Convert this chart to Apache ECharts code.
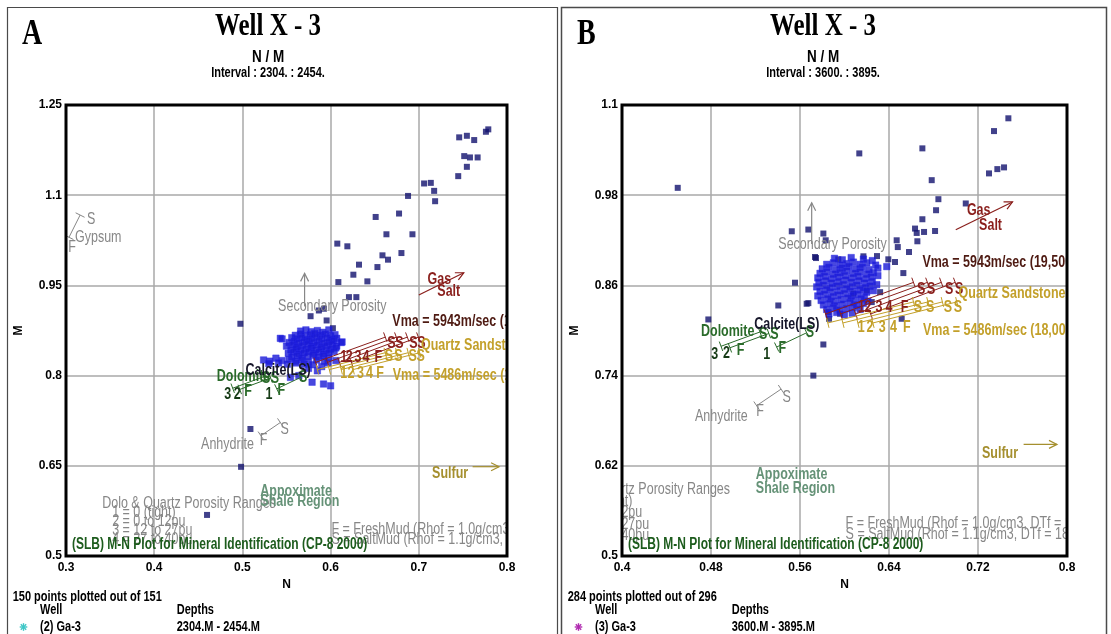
<!DOCTYPE html>
<html>
<head>
<meta charset="utf-8">
<script src="https://cdn.jsdelivr.net/npm/echarts@6/dist/echarts.min.js"></script>
<style>
  html, body { margin: 0; padding: 0; background: #fff; }
  #chart { width: 1111px; height: 634px; }
</style>
</head>
<body>
<div id="chart"></div>
<script>
// axis ranges [min, max, step]
const xRangeA = [0.3, 0.8, 0.1];
const yRangeA = [0.5, 1.25, 0.15];
const xRangeB = [0.4, 0.8, 0.08];
const yRangeB = [0.5, 1.1, 0.12];

const panelLetters = ['A', 'B'];
const wellTitle = 'Well X - 3';
const crossPlot = 'N / M';
const intervals = ['Interval : 2304. : 2454.', 'Interval : 3600. : 3895.'];
const plottedCounts = ['150 points plotted out of 151', '284 points plotted out of 296'];
const wells = ['(2) Ga-3', '(3) Ga-3'];
const depths = ['2304.M - 2454.M', '3600.M - 3895.M'];

// [N, M] points, panel A (interval 2304-2454)
const pointsA = [
  [0.7458,1.1962],[0.7545,1.1988],[0.7628,1.1917],[0.7761,1.2055],[0.7788,1.2095],
  [0.7515,1.165],[0.758,1.1628],[0.7667,1.1628],[0.7545,1.1472],[0.7447,1.1317],
  [0.706,1.1195],[0.7136,1.1205],[0.7174,1.1072],[0.7185,1.09],[0.6878,1.0988],
  [0.6776,1.0695],[0.6511,1.0638],[0.6633,1.035],[0.6928,1.035],[0.6076,1.0195],
  [0.619,1.015],[0.6588,1.0],[0.6651,0.9928],[0.6803,1.0038],[0.6322,0.9845],
  [0.6531,0.9805],[0.6258,0.9678],[0.6088,0.9555],[0.6417,0.9567],[0.6208,0.9305],
  [0.6292,0.9305],[0.5773,0.8988],[0.5867,0.9083],[0.5924,0.9112],[0.5955,0.8917],
  [0.6026,0.8788],[0.4977,0.8862],[0.5091,0.7112],[0.4985,0.6483],[0.4599,0.5683]
];
const clusterA = [
  [0.566,0.874],[0.572,0.876],[0.578,0.873],[0.585,0.875],[0.591,0.872],[0.598,0.876],
  [0.560,0.867],[0.566,0.869],[0.571,0.866],[0.577,0.868],[0.582,0.870],[0.588,0.867],[0.594,0.869],[0.600,0.866],[0.605,0.868],
  [0.545,0.861],[0.556,0.863],[0.562,0.861],[0.567,0.863],[0.573,0.860],[0.579,0.862],[0.584,0.864],[0.590,0.861],[0.596,0.863],[0.601,0.860],[0.607,0.862],
  [0.553,0.855],[0.559,0.857],[0.564,0.854],[0.570,0.856],[0.576,0.858],[0.581,0.855],[0.587,0.857],[0.593,0.854],[0.598,0.856],[0.604,0.858],[0.612,0.855],
  [0.550,0.849],[0.557,0.851],[0.562,0.848],[0.568,0.850],[0.574,0.852],[0.579,0.849],[0.585,0.851],[0.590,0.848],[0.596,0.850],[0.602,0.852],[0.607,0.849],
  [0.555,0.843],[0.561,0.845],[0.566,0.842],[0.572,0.844],[0.578,0.846],[0.583,0.843],[0.589,0.845],[0.595,0.842],[0.600,0.844],[0.606,0.846],
  [0.552,0.837],[0.558,0.839],[0.564,0.836],[0.570,0.838],[0.575,0.840],[0.581,0.837],[0.587,0.839],[0.592,0.836],[0.598,0.838],[0.604,0.840],
  [0.556,0.831],[0.562,0.833],[0.568,0.830],[0.574,0.832],[0.580,0.834],[0.586,0.831],[0.592,0.833],[0.598,0.830],
  [0.524,0.826],[0.531,0.824],[0.538,0.829],[0.545,0.825],[0.553,0.827],[0.560,0.824],[0.567,0.826],[0.575,0.823],[0.584,0.826],[0.593,0.824],[0.606,0.825],
  [0.530,0.820],[0.541,0.821],[0.551,0.819],[0.561,0.821],[0.570,0.819],[0.580,0.818],[0.597,0.821],
  [0.5545,0.797],[0.564,0.800],[0.585,0.808],[0.579,0.789],[0.592,0.786],[0.600,0.783],[0.575,0.812],[0.590,0.815],[0.543,0.862],[0.613,0.856]
];

// [N, M] points, panel B (interval 3600-3895)
const pointsB = [
  [0.4501,0.9898],[0.5526,0.932],[0.5675,0.9343],[0.581,0.929],[0.5831,0.92],[0.5744,0.8964],
  [0.5555,0.8636],[0.5405,0.8333],[0.5675,0.8364],[0.4776,0.8147],[0.581,0.7814],[0.572,0.74],[0.5861,0.8156],
  [0.7473,1.0823],[0.7344,1.0653],[0.7434,1.017],[0.7374,1.0147],[0.7299,1.009],[0.67,1.0423],[0.6133,1.0356],
  [0.6784,1.0],[0.6844,0.9747],[0.6823,0.96],[0.709,0.969],[0.67,0.948],[0.6634,0.9356],[0.6649,0.9298],
  [0.6715,0.9311],[0.6814,0.9324],[0.6655,0.9187],[0.658,0.9044],[0.6469,0.92],[0.6479,0.911],[0.6529,0.8764],
  [0.6292,0.899],[0.6394,0.8947],[0.6454,0.8911],[0.617,0.8987],[0.5944,0.8947],[0.6514,0.8156],[0.632,0.851],
  [0.6245,0.8378],[0.6079,0.849],[0.62,0.8533],[0.596,0.8223],[0.5855,0.8244],[0.566,0.8356],[0.5735,0.8978]
];
const clusterB = [
  [0.591,0.896],[0.598,0.894],[0.606,0.897],[0.617,0.895],[0.625,0.893],
  [0.584,0.888],[0.590,0.890],[0.596,0.887],[0.602,0.889],[0.608,0.891],[0.614,0.888],[0.620,0.890],[0.628,0.887],
  [0.580,0.882],[0.586,0.884],[0.592,0.881],[0.598,0.883],[0.604,0.885],[0.610,0.882],[0.616,0.884],[0.622,0.881],[0.630,0.883],[0.638,0.885],
  [0.578,0.876],[0.584,0.878],[0.590,0.875],[0.596,0.877],[0.602,0.879],[0.608,0.876],[0.614,0.878],[0.620,0.875],[0.626,0.877],
  [0.576,0.870],[0.582,0.872],[0.588,0.869],[0.594,0.871],[0.600,0.873],[0.606,0.870],[0.612,0.872],[0.618,0.869],[0.624,0.871],[0.630,0.873],
  [0.577,0.864],[0.583,0.866],[0.589,0.863],[0.595,0.865],[0.601,0.867],[0.607,0.864],[0.613,0.866],[0.619,0.863],[0.625,0.865],
  [0.575,0.858],[0.581,0.860],[0.587,0.857],[0.593,0.859],[0.599,0.861],[0.605,0.858],[0.611,0.860],[0.617,0.857],[0.623,0.859],[0.629,0.861],
  [0.578,0.852],[0.584,0.854],[0.590,0.851],[0.596,0.853],[0.602,0.855],[0.608,0.852],[0.614,0.854],[0.620,0.851],[0.626,0.853],
  [0.576,0.846],[0.582,0.848],[0.588,0.845],[0.594,0.847],[0.600,0.849],[0.606,0.846],[0.612,0.848],[0.618,0.845],
  [0.579,0.840],[0.585,0.842],[0.591,0.839],[0.597,0.841],[0.603,0.843],[0.609,0.840],[0.615,0.842],[0.621,0.839],
  [0.581,0.834],[0.587,0.836],[0.593,0.833],[0.599,0.835],[0.605,0.837],[0.611,0.834],[0.617,0.836],
  [0.584,0.828],[0.590,0.830],[0.596,0.827],[0.602,0.829],[0.608,0.831],[0.614,0.828],
  [0.586,0.822],[0.593,0.824],[0.600,0.821],[0.607,0.823]
];

// chart overlay, in N/M units: [N, M, text, tone]
const notes = [
  [0.5405, 0.9145, 'Secondary Porosity', 'gray'],
  [0.3102, 1.030, 'Gypsum', 'gray'],
  [0.3284, 1.060, 'S', 'grayC'], [0.3068, 1.0133, 'F', 'grayC'],
  [0.513, 0.686, 'Anhydrite', 'grayR'],
  [0.524, 0.692, 'F', 'grayC'], [0.548, 0.711, 'S', 'grayC'],
  [0.341, 0.588, 'Dolo & Quartz Porosity Ranges', 'gray'],
  [0.3523, 0.572, '1 = 0 (tight)', 'gray'],
  [0.3523, 0.558, '2 = 0 to 12pu', 'gray'],
  [0.3523, 0.542, '3 = 12 to 27pu', 'gray'],
  [0.3523, 0.527, '4 = 27 to 40pu', 'gray'],
  [0.601, 0.5435, 'F = FreshMud (Rhof = 1.0g/cm3, DTf = 189us/ft)', 'gray'],
  [0.601, 0.528, 'S = SaltMud (Rhof = 1.1g/cm3, DTf = 185us/ft)', 'gray'],
  [0.670, 0.8905, 'Vma = 5943m/sec (19,500ft/sec)', 'vma'],
  [0.710, 0.959, 'Gas', 'maroon'], [0.721, 0.940, 'Salt', 'maroon'],
  [0.615, 0.830, '1', 'maroonC'], [0.621, 0.830, '2', 'maroonC'], [0.631, 0.830, '3', 'maroonC'],
  [0.640, 0.830, '4', 'maroonC'], [0.654, 0.830, 'F', 'maroonC'],
  [0.669, 0.854, 'S', 'maroonC'], [0.678, 0.854, 'S', 'maroonC'], [0.694, 0.854, 'S', 'maroonC'], [0.703, 0.854, 'S', 'maroonC'],
  [0.7025, 0.8497, 'Quartz Sandstone', 'gold'],
  [0.6705, 0.800, 'Vma = 5486m/sec (18,000ft/sec)', 'gold'],
  [0.615, 0.804, '1', 'goldC'], [0.623, 0.804, '2', 'goldC'], [0.634, 0.804, '3', 'goldC'],
  [0.644, 0.804, '4', 'goldC'], [0.656, 0.804, 'F', 'goldC'],
  [0.666, 0.831, 'S', 'goldC'], [0.677, 0.831, 'S', 'goldC'], [0.693, 0.831, 'S', 'goldC'], [0.702, 0.831, 'S', 'goldC'],
  [0.756, 0.637, 'Sulfur', 'olive'],
  [0.471, 0.798, 'Dolomite', 'green'],
  [0.527, 0.795, 'S', 'greenC'], [0.537, 0.795, 'S', 'greenC'], [0.569, 0.797, 'S', 'greenC'],
  [0.5065, 0.774, 'F', 'greenC'], [0.544, 0.776, 'F', 'greenC'],
  [0.4833, 0.768, '3', 'dkgreen'], [0.494, 0.769, '2', 'dkgreen'], [0.530, 0.768, '1', 'dkgreen'],
  [0.5775, 0.808, 'Calcite(LS)', 'black'],
  [0.5203, 0.608, 'Appoximate', 'shale'], [0.5203, 0.590, 'Shale Region', 'shale']
];
// [N1, M1, N2, M2, tone]
const noteLines = [
  [0.3034, 1.030, 0.316, 1.067, 'gray'],
  [0.521, 0.700, 0.543, 0.722, 'gray'],
  [0.489, 0.779, 0.524, 0.798, 'green'],
  [0.497, 0.777, 0.532, 0.796, 'green'],
  [0.539, 0.778, 0.566, 0.797, 'green'],
  [0.583, 0.822, 0.662, 0.864, 'maroon'],
  [0.5965, 0.822, 0.6745, 0.864, 'maroon'],
  [0.610, 0.822, 0.687, 0.864, 'maroon'],
  [0.6235, 0.822, 0.6995, 0.864, 'maroon'],
  [0.585, 0.810, 0.662, 0.838, 'gold'],
  [0.5985, 0.810, 0.675, 0.838, 'gold'],
  [0.612, 0.810, 0.688, 0.838, 'gold'],
  [0.6255, 0.810, 0.701, 0.838, 'gold']
];
const noteArrows = [
  [0.5705, 0.915, 0.5705, 0.970, 'gray'],
  [0.700, 0.934, 0.751, 0.971, 'maroon'],
  [0.761, 0.6485, 0.791, 0.6485, 'olive']
];

const tone = {
  gray:    { color: '#878787', align: 'left',   weight: 'normal' },
  grayR:   { color: '#878787', align: 'right',  weight: 'normal' },
  grayC:   { color: '#878787', align: 'center', weight: 'normal' },
  vma:     { color: '#4e1a12', align: 'left',   weight: 'bold' },
  maroon:  { color: '#8a1f1c', align: 'left',   weight: 'bold' },
  maroonC: { color: '#8a1f1c', align: 'center', weight: 'bold' },
  gold:    { color: '#c3a02a', align: 'left',   weight: 'bold' },
  goldC:   { color: '#c3a02a', align: 'center', weight: 'bold' },
  olive:   { color: '#a58f2e', align: 'right',  weight: 'bold' },
  green:   { color: '#2a6b2a', align: 'left',   weight: 'bold' },
  greenC:  { color: '#2a6b2a', align: 'center', weight: 'bold' },
  dkgreen: { color: '#153a15', align: 'center', weight: 'bold' },
  black:   { color: '#16162a', align: 'right',  weight: 'bold' },
  shale:   { color: '#659277', align: 'left',   weight: 'bold' }
};

const FONT = "'Liberation Sans', Arial, sans-serif";
const SERIF = "'Liberation Serif', 'Times New Roman', serif";
const STRETCH = 1.3;

function hasFont(name) {
  const ctx = document.createElement('canvas').getContext('2d');
  ctx.font = '20px monospace';
  const base = ctx.measureText('0.95 Mmw1').width;
  ctx.font = '20px "' + name + '", monospace';
  return ctx.measureText('0.95 Mmw1').width !== base;
}
const tickFont = hasFont('Liberation Sans Narrow')
  ? { fontFamily: 'Liberation Sans Narrow', fontSize: 14.5 }
  : { fontFamily: 'Liberation Sans', fontSize: 12 };

const grids = [
  { left: 66, top: 105, width: 441, height: 451 },
  { left: 622, top: 105, width: 445, height: 451 }
];

const fmt = v => String(Math.round(v * 1000) / 1000);

function xAxisFor(i, r) {
  return {
    gridIndex: i, type: 'value', min: r[0], max: r[1], interval: r[2],
    name: 'N', nameLocation: 'middle', nameGap: 20,
    nameTextStyle: Object.assign({ color: '#000', fontWeight: 'bold' }, tickFont),
    axisLine: { show: false }, axisTick: { show: false },
    axisLabel: Object.assign({ color: '#000', fontWeight: 'bold', margin: 6, formatter: fmt }, tickFont),
    splitLine: { show: true, lineStyle: { color: '#a8a8a8', width: 1.5 } }
  };
}
function yAxisFor(i, r) {
  return {
    gridIndex: i, type: 'value', min: r[0], max: r[1], interval: r[2],
    name: 'M', nameLocation: 'middle', nameGap: 41,
    nameTextStyle: Object.assign({ color: '#000', fontWeight: 'bold' }, tickFont),
    axisLine: { show: false }, axisTick: { show: false },
    axisLabel: Object.assign({ color: '#000', fontWeight: 'bold', margin: 4, formatter: fmt }, tickFont),
    splitLine: { show: true, lineStyle: { color: '#a8a8a8', width: 1.5 } }
  };
}

function drawNote(params, api) {
  const n = notes[params.dataIndex];
  const t = tone[n[3]];
  const p = api.coord([n[0], n[1]]);
  return {
    type: 'text', x: p[0], y: p[1], scaleY: STRETCH,
    style: {
      text: n[2], fill: t.color, font: t.weight + ' 12.5px ' + FONT,
      align: t.align, verticalAlign: 'middle', textAlign: t.align, textVerticalAlign: 'middle'
    }
  };
}

function drawSeg(params, api) {
  const s = noteLines[params.dataIndex];
  const a = api.coord([s[0], s[1]]);
  const b = api.coord([s[2], s[3]]);
  const dx = b[0] - a[0], dy = b[1] - a[1];
  const len = Math.hypot(dx, dy) || 1;
  const px = -dy / len * 5, py = dx / len * 5;
  const st = { stroke: tone[s[4]].color, lineWidth: 1, fill: null };
  return {
    type: 'group',
    children: [
      { type: 'line', shape: { x1: a[0], y1: a[1], x2: b[0], y2: b[1] }, style: st },
      { type: 'line', shape: { x1: a[0] - px, y1: a[1] - py, x2: a[0] + px, y2: a[1] + py }, style: st },
      { type: 'line', shape: { x1: b[0] - px, y1: b[1] - py, x2: b[0] + px, y2: b[1] + py }, style: st }
    ]
  };
}

function drawArrow(params, api) {
  const s = noteArrows[params.dataIndex];
  const a = api.coord([s[0], s[1]]);
  const b = api.coord([s[2], s[3]]);
  const dx = b[0] - a[0], dy = b[1] - a[1];
  const len = Math.hypot(dx, dy) || 1;
  const ux = dx / len, uy = dy / len;
  const st = { stroke: tone[s[4]].color, lineWidth: 1.2, fill: null };
  return {
    type: 'group',
    children: [
      { type: 'line', shape: { x1: a[0], y1: a[1], x2: b[0], y2: b[1] }, style: st },
      { type: 'polyline', shape: { points: [
        [b[0] - ux * 8 - uy * 4, b[1] - uy * 8 + ux * 4], b,
        [b[0] - ux * 8 + uy * 4, b[1] - uy * 8 - ux * 4]
      ] }, style: st }
    ]
  };
}

function seriesFor(i, spread, cluster) {
  return [
    { type: 'scatter', xAxisIndex: i, yAxisIndex: i, data: spread, symbol: 'rect', symbolSize: 6,
      itemStyle: { color: '#12126e' }, silent: true, z: 2 },
    { type: 'scatter', xAxisIndex: i, yAxisIndex: i, data: cluster, symbol: 'rect', symbolSize: 6.5,
      itemStyle: { color: '#1a1ad6', borderColor: '#2525e8', borderWidth: 0.5 }, silent: true, z: 2 },
    { type: 'custom', xAxisIndex: i, yAxisIndex: i, clip: true, silent: true, z: 3,
      data: noteLines.map(s => [s[0], s[1], s[2], s[3]]), encode: { x: [0, 2], y: [1, 3] }, renderItem: drawSeg },
    { type: 'custom', xAxisIndex: i, yAxisIndex: i, clip: true, silent: true, z: 3,
      data: noteArrows.map(s => [s[0], s[1], s[2], s[3]]), encode: { x: [0, 2], y: [1, 3] }, renderItem: drawArrow },
    { type: 'custom', xAxisIndex: i, yAxisIndex: i, clip: true, silent: true, z: 4,
      data: notes.map(n => [n[0], n[1]]), encode: { x: 0, y: 1 }, renderItem: drawNote }
  ];
}

function label(x, y, text, font, fill, align, sy) {
  return {
    type: 'text', x: x, y: y, scaleY: sy, z: 50, silent: true,
    style: { text: text, font: font, fill: fill, align: align, verticalAlign: 'middle',
             textAlign: align, textVerticalAlign: 'middle' }
  };
}
function asterisk(cx, cy, color) {
  const r = 3.8, d = 2.7;
  const st = { stroke: color, lineWidth: 1.4 };
  return [
    [cx - r, cy, cx + r, cy], [cx, cy - r, cx, cy + r],
    [cx - d, cy - d, cx + d, cy + d], [cx - d, cy + d, cx + d, cy - d]
  ].map(l => ({ type: 'line', z: 50, silent: true, shape: { x1: l[0], y1: l[1], x2: l[2], y2: l[3] }, style: st }));
}

const graphics = [
  { type: 'rect', z: 40, silent: true, shape: { x: 7.5, y: 7.5, width: 550, height: 640 },
    style: { fill: null, stroke: '#4a4a4a', lineWidth: 1.2 } },
  { type: 'rect', z: 40, silent: true, shape: { x: 561.5, y: 7.5, width: 545, height: 640 },
    style: { fill: null, stroke: '#4a4a4a', lineWidth: 1.5 } }
];
const markColors = ['#3ec6c6', '#b02cb0'];
[0, 1].forEach(p => {
  const ox = p * 555;
  const g = grids[p];
  graphics.push(
    label(22 + ox, 35, panelLetters[p], 'bold 28px ' + SERIF, '#000', 'left', 1.3),
    label(268 + ox, 27, wellTitle, 'bold 25px ' + SERIF, '#000', 'center', 1.3),
    label(268 + ox, 57.5, crossPlot, 'bold 13.5px ' + FONT, '#000', 'center', 1.2),
    label(268 + ox, 72.5, intervals[p], 'bold 11px ' + FONT, '#000', 'center', 1.35),
    label(12.7 + ox, 597, plottedCounts[p], 'bold 11px ' + FONT, '#000', 'left', 1.35),
    label(40 + ox, 609.5, 'Well', 'bold 11px ' + FONT, '#000', 'left', 1.35),
    label(176.7 + ox, 609.5, 'Depths', 'bold 11px ' + FONT, '#000', 'left', 1.35),
    label(40 + ox, 627, wells[p], 'bold 11px ' + FONT, '#000', 'left', 1.35),
    label(176.7 + ox, 627, depths[p], 'bold 11px ' + FONT, '#000', 'left', 1.35),
    label(g.left + 6, 545, '(SLB) M-N Plot for Mineral Identification (CP-8 2000)', 'bold 12px ' + FONT, '#1d5c1d', 'left', STRETCH),
    { type: 'rect', z: 45, silent: true, shape: { x: g.left, y: g.top, width: g.width, height: g.height },
      style: { fill: null, stroke: '#000', lineWidth: 3 } }
  );
  asterisk(23.5 + ox, 627, markColors[p]).forEach(e => graphics.push(e));
});

const chart = echarts.init(document.getElementById('chart'));
chart.setOption({
  animation: false,
  backgroundColor: '#fff',
  grid: grids.map(g => Object.assign({ show: true, backgroundColor: '#fff', borderWidth: 0 }, g)),
  xAxis: [xAxisFor(0, xRangeA), xAxisFor(1, xRangeB)],
  yAxis: [yAxisFor(0, yRangeA), yAxisFor(1, yRangeB)],
  series: seriesFor(0, pointsA, clusterA).concat(seriesFor(1, pointsB, clusterB)),
  graphic: { elements: graphics }
});
</script>
</body>
</html>
